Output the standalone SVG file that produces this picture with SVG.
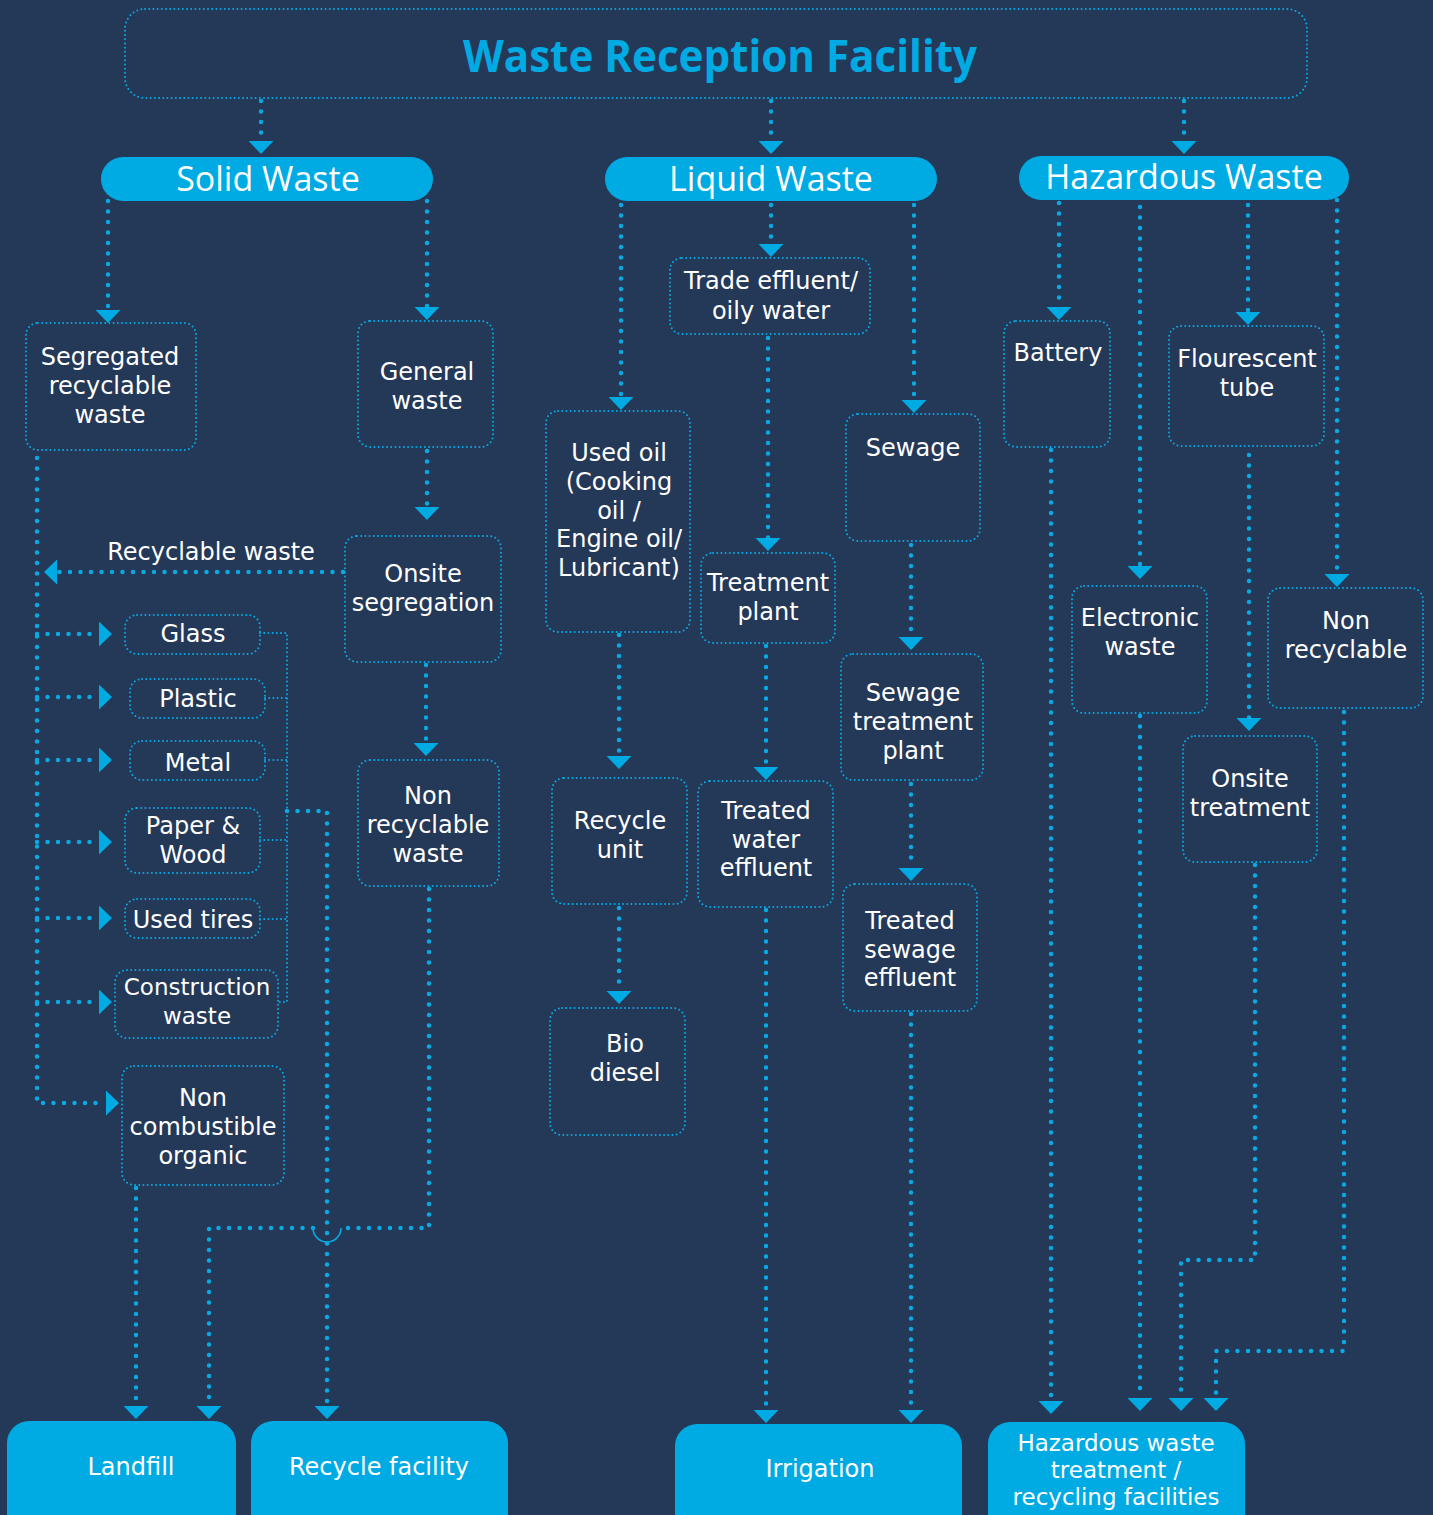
<svg xmlns="http://www.w3.org/2000/svg" width="1433" height="1515" viewBox="0 0 1433 1515">
<style>
.nb{fill:none;stroke:#0aa9e2;stroke-width:2;stroke-dasharray:0 4.2;stroke-linecap:round}
.cn{fill:none;stroke:#0aa9e2;stroke-width:4.5;stroke-dasharray:0 10.5;stroke-linecap:round}
.hop{fill:none;stroke:#0aa9e2;stroke-width:1.6}
.pill{fill:#00aae3}
text{font-family:"DejaVu Sans","Open Sans",sans-serif;fill:#fff;text-anchor:middle}
.t{font-size:24px}
.s{font-size:23px}
.h{font-size:34px;font-family:"Open Sans","DejaVu Sans",sans-serif}
.title{font-size:44px;font-weight:bold;fill:#00aae3;font-family:"Open Sans","DejaVu Sans",sans-serif}
</style>
<defs>
<marker id="arr" markerUnits="userSpaceOnUse" markerWidth="14" markerHeight="26" viewBox="0 0 14 26" refX="0" refY="12.5" orient="auto">
<path d="M0,0 L13,12.5 L0,25 Z" fill="#00aae3"/>
</marker>
</defs>
<rect width="1433" height="1515" fill="#243858"/>

<g id="connectors">
<g class="cn" marker-end="url(#arr)">
<path d="M261,101 V141"/>
<path d="M771,101 V141"/>
<path d="M1184,101 V141"/>
<path d="M108,201 V310"/>
<path d="M427,201 V307"/>
<path d="M427,451 V507"/>
<path d="M343,572 H57"/>
<path d="M37,458 V1103 H106"/>
<path d="M37,634 H99"/>
<path d="M37,697 H99"/>
<path d="M37,760 H99"/>
<path d="M37,842 H99"/>
<path d="M37,918 H99"/>
<path d="M37,1002 H99"/>
<path d="M426,665 V743"/>
<path d="M313,1228 H209 V1406"/>
<path d="M136,1188 V1406"/>
<path d="M287,811 H327 V1406"/>
<path d="M621,205 V397"/>
<path d="M771,205 V244"/>
<path d="M914,205 V400"/>
<path d="M768,338 V538"/>
<path d="M766,646 V767"/>
<path d="M911,545 V637"/>
<path d="M911,784 V868"/>
<path d="M619,635 V756"/>
<path d="M619,908 V991"/>
<path d="M766,910 V1410"/>
<path d="M911,1014 V1410"/>
<path d="M1059,203 V307"/>
<path d="M1140,207 V566"/>
<path d="M1248,205 V312"/>
<path d="M1337,200 V574"/>
<path d="M1249,455 V718"/>
<path d="M1051,450 V1401"/>
<path d="M1140,716 V1398"/>
<path d="M1255,865 V1260 H1181 V1398"/>
<path d="M1344,712 V1351 H1216 V1398"/>
</g>
<path class="cn" d="M429,889 V1228 H341"/>
<path class="hop" d="M341,1228 A14,14 0 0 1 313,1228"/>
<g class="nb">
<path d="M260,633 H287 V1002 H278"/>
<path d="M265,698 H287"/>
<path d="M265,760 H287"/>
<path d="M260,840 H287"/>
<path d="M260,919 H287"/>
</g>
</g>

<g id="title"><rect class="nb" x="125" y="9" width="1182" height="89" rx="20"/>
<text class="title" x="720" y="72" textLength="514" lengthAdjust="spacingAndGlyphs">Waste Reception Facility</text></g>

<g id="solid-waste"><rect class="pill" x="101" y="157" width="332" height="44" rx="22"/><text class="h" x="268" y="191">Solid Waste</text></g>
<g id="liquid-waste"><rect class="pill" x="605" y="157" width="332" height="44" rx="22"/><text class="h" x="771" y="191">Liquid Waste</text></g>
<g id="hazardous-waste"><rect class="pill" x="1019" y="156" width="330" height="44" rx="22"/><text class="h" x="1184" y="189">Hazardous Waste</text></g>

<g id="segregated"><rect class="nb" x="26" y="323" width="170" height="127" rx="12"/><text class="t" x="110" y="365"><tspan x="110">Segregated</tspan><tspan x="110" dy="29">recyclable</tspan><tspan x="110" dy="28.5">waste</tspan></text></g>
<g id="general"><rect class="nb" x="358" y="321" width="135" height="126" rx="12"/><text class="t" x="427" y="380"><tspan x="427">General</tspan><tspan x="427" dy="29">waste</tspan></text></g>
<g id="onsite-segregation"><rect class="nb" x="345" y="536" width="156" height="126" rx="12"/><text class="t" x="423" y="582"><tspan x="423">Onsite</tspan><tspan x="423" dy="29">segregation</tspan></text></g>
<text class="t" x="211" y="560">Recyclable waste</text>
<g id="non-recyclable-waste"><rect class="nb" x="358" y="760" width="141" height="126" rx="12"/><text class="t" x="428" y="804"><tspan x="428">Non</tspan><tspan x="428" dy="29">recyclable</tspan><tspan x="428" dy="29">waste</tspan></text></g>
<g id="glass"><rect class="nb" x="125" y="615" width="135" height="39" rx="12"/><text class="t" x="193" y="642">Glass</text></g>
<g id="plastic"><rect class="nb" x="130" y="679" width="135" height="39" rx="12"/><text class="t" x="198" y="707">Plastic</text></g>
<g id="metal"><rect class="nb" x="130" y="741" width="135" height="39" rx="12"/><text class="t" x="198" y="771">Metal</text></g>
<g id="paper-wood"><rect class="nb" x="125" y="808" width="135" height="65" rx="12"/><text class="t" x="193" y="834"><tspan x="193">Paper &amp;</tspan><tspan x="193" dy="28.5">Wood</tspan></text></g>
<g id="used-tires"><rect class="nb" x="125" y="899" width="135" height="39" rx="12"/><text class="t" x="193" y="928">Used tires</text></g>
<g id="construction"><rect class="nb" x="115" y="970" width="163" height="68" rx="12"/><text class="s" x="197" y="995"><tspan x="197">Construction</tspan><tspan x="197" dy="29">waste</tspan></text></g>
<g id="non-combustible"><rect class="nb" x="122" y="1066" width="162" height="119" rx="12"/><text class="t" x="203" y="1106"><tspan x="203">Non</tspan><tspan x="203" dy="29">combustible</tspan><tspan x="203" dy="29">organic</tspan></text></g>

<g id="used-oil"><rect class="nb" x="546" y="411" width="144" height="221" rx="12"/><text class="t" x="619" y="461"><tspan x="619">Used oil</tspan><tspan x="619" dy="28.8">(Cooking</tspan><tspan x="619" dy="28.8">oil /</tspan><tspan x="619" dy="28.8">Engine oil/</tspan><tspan x="619" dy="28.8">Lubricant)</tspan></text></g>
<g id="trade-effluent"><rect class="nb" x="670" y="258" width="200" height="76" rx="12"/><text class="t" x="771" y="289"><tspan x="771">Trade effluent/</tspan><tspan x="771" dy="30">oily water</tspan></text></g>
<g id="treatment-plant"><rect class="nb" x="701" y="553" width="134" height="90" rx="12"/><text class="t" x="768" y="591"><tspan x="768">Treatment</tspan><tspan x="768" dy="29">plant</tspan></text></g>
<g id="sewage"><rect class="nb" x="846" y="414" width="134" height="127" rx="12"/><text class="t" x="913" y="456">Sewage</text></g>
<g id="sewage-treatment"><rect class="nb" x="841" y="654" width="142" height="126" rx="12"/><text class="t" x="913" y="701"><tspan x="913">Sewage</tspan><tspan x="913" dy="29">treatment</tspan><tspan x="913" dy="29">plant</tspan></text></g>
<g id="treated-water"><rect class="nb" x="698" y="781" width="135" height="126" rx="12"/><text class="t" x="766" y="819"><tspan x="766">Treated</tspan><tspan x="766" dy="28.5">water</tspan><tspan x="766" dy="28.5">effluent</tspan></text></g>
<g id="treated-sewage"><rect class="nb" x="843" y="884" width="134" height="127" rx="12"/><text class="t" x="910" y="929"><tspan x="910">Treated</tspan><tspan x="910" dy="28.5">sewage</tspan><tspan x="910" dy="28.5">effluent</tspan></text></g>
<g id="recycle-unit"><rect class="nb" x="552" y="778" width="135" height="126" rx="12"/><text class="t" x="620" y="829"><tspan x="620">Recycle</tspan><tspan x="620" dy="29">unit</tspan></text></g>
<g id="bio-diesel"><rect class="nb" x="550" y="1008" width="135" height="127" rx="12"/><text class="t" x="625" y="1052"><tspan x="625">Bio</tspan><tspan x="625" dy="29">diesel</tspan></text></g>

<g id="battery"><rect class="nb" x="1004" y="321" width="106" height="126" rx="12"/><text class="t" x="1058" y="361">Battery</text></g>
<g id="flourescent"><rect class="nb" x="1169" y="326" width="155" height="120" rx="12"/><text class="t" x="1247" y="367"><tspan x="1247">Flourescent</tspan><tspan x="1247" dy="28.5">tube</tspan></text></g>
<g id="electronic"><rect class="nb" x="1072" y="586" width="135" height="127" rx="12"/><text class="t" x="1140" y="626"><tspan x="1140">Electronic</tspan><tspan x="1140" dy="29">waste</tspan></text></g>
<g id="non-recyclable-haz"><rect class="nb" x="1268" y="588" width="155" height="120" rx="12"/><text class="t" x="1346" y="629"><tspan x="1346">Non</tspan><tspan x="1346" dy="29">recyclable</tspan></text></g>
<g id="onsite-treatment"><rect class="nb" x="1183" y="736" width="134" height="126" rx="12"/><text class="t" x="1250" y="787"><tspan x="1250">Onsite</tspan><tspan x="1250" dy="28.5">treatment</tspan></text></g>

<g id="landfill"><rect class="pill" x="7" y="1421" width="229" height="120" rx="22"/><text class="t" x="131" y="1475">Landfill</text></g>
<g id="recycle-facility"><rect class="pill" x="251" y="1421" width="257" height="120" rx="22"/><text class="t" x="379" y="1475">Recycle facility</text></g>
<g id="irrigation"><rect class="pill" x="675" y="1424" width="287" height="120" rx="22"/><text class="t" x="820" y="1477">Irrigation</text></g>
<g id="hazardous-facilities"><rect class="pill" x="988" y="1422" width="257" height="120" rx="22"/><text class="s" x="1116" y="1451"><tspan x="1116">Hazardous waste</tspan><tspan x="1116" dy="27">treatment /</tspan><tspan x="1116" dy="27">recycling facilities</tspan></text></g>
</svg>
